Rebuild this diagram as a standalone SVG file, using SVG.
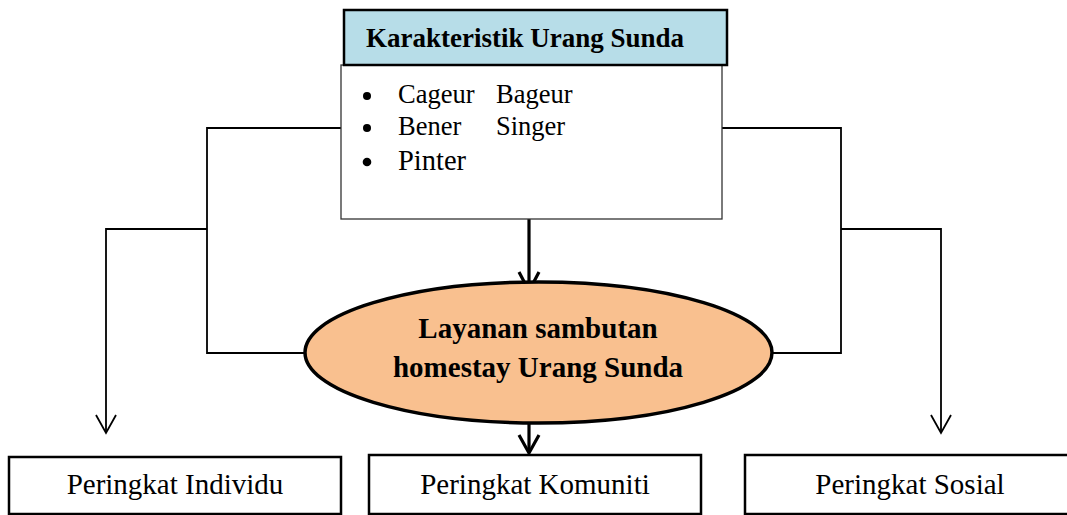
<svg xmlns="http://www.w3.org/2000/svg" width="1067" height="515" viewBox="0 0 1067 515">
<style>
.t{font-family:"Liberation Serif","Times New Roman",serif;fill:#000}
.b{font-weight:bold}
.c{fill:none;stroke:#000;stroke-width:1.8}
.thick{fill:none;stroke:#000;stroke-width:3.2}
.box{fill:#fff;stroke:#000;stroke-width:2.5}
</style>
<rect width="1067" height="515" fill="#fff"/>
<g id="connectors">
<path class="c" d="M341 128H207V353H305"/>
<path class="c" d="M207 229H106V432"/>
<path class="c" d="M96 415L106 433L116 415"/>
<path class="c" d="M722 128H841V353H772"/>
<path class="c" d="M841 229H941V432"/>
<path class="c" d="M931 415L941 433L951 415"/>
<path class="thick" d="M529 219V290"/>
<path class="thick" d="M519 272L529 291L539 272"/>
<path class="thick" d="M529 423V452"/>
<path class="thick" d="M519 435L529 453L539 435"/>
</g>
<g id="karakteristik">
<rect x="341" y="65" width="381" height="154" fill="#fff" stroke="#333" stroke-width="1.3"/>
<rect x="344" y="10" width="383" height="55" fill="#b7dde8" stroke="#000" stroke-width="2.5"/>
<text class="t b" x="366" y="47" font-size="27">Karakteristik Urang Sunda</text>
<circle cx="367" cy="96" r="4"/>
<circle cx="367" cy="128" r="4"/>
<circle cx="367" cy="162" r="4.3"/>
<text class="t" x="398" y="103" font-size="26.5">Cageur</text>
<text class="t" x="496" y="103" font-size="26.5">Bageur</text>
<text class="t" x="398" y="135" font-size="26.5">Bener</text>
<text class="t" x="496" y="135" font-size="26.5">Singer</text>
<text class="t" x="398" y="170" font-size="28.5">Pinter</text>
</g>
<g id="layanan">
<ellipse cx="538.5" cy="352.5" rx="233.5" ry="70.5" fill="#f9c08f" stroke="#000" stroke-width="3.5"/>
<text class="t b" x="538" y="338" font-size="29" text-anchor="middle">Layanan sambutan</text>
<text class="t b" x="538" y="377" font-size="29" text-anchor="middle">homestay Urang Sunda</text>
</g>
<g id="individu">
<rect class="box" x="9" y="457" width="332" height="57"/>
<text class="t" x="175" y="494" font-size="29" text-anchor="middle">Peringkat Individu</text>
</g>
<g id="komuniti">
<rect class="box" x="369" y="455" width="332" height="59"/>
<text class="t" x="535" y="494" font-size="29" text-anchor="middle">Peringkat Komuniti</text>
</g>
<g id="sosial">
<rect class="box" x="745" y="455" width="330" height="59"/>
<text class="t" x="910" y="494" font-size="29" text-anchor="middle">Peringkat Sosial</text>
</g>
</svg>
